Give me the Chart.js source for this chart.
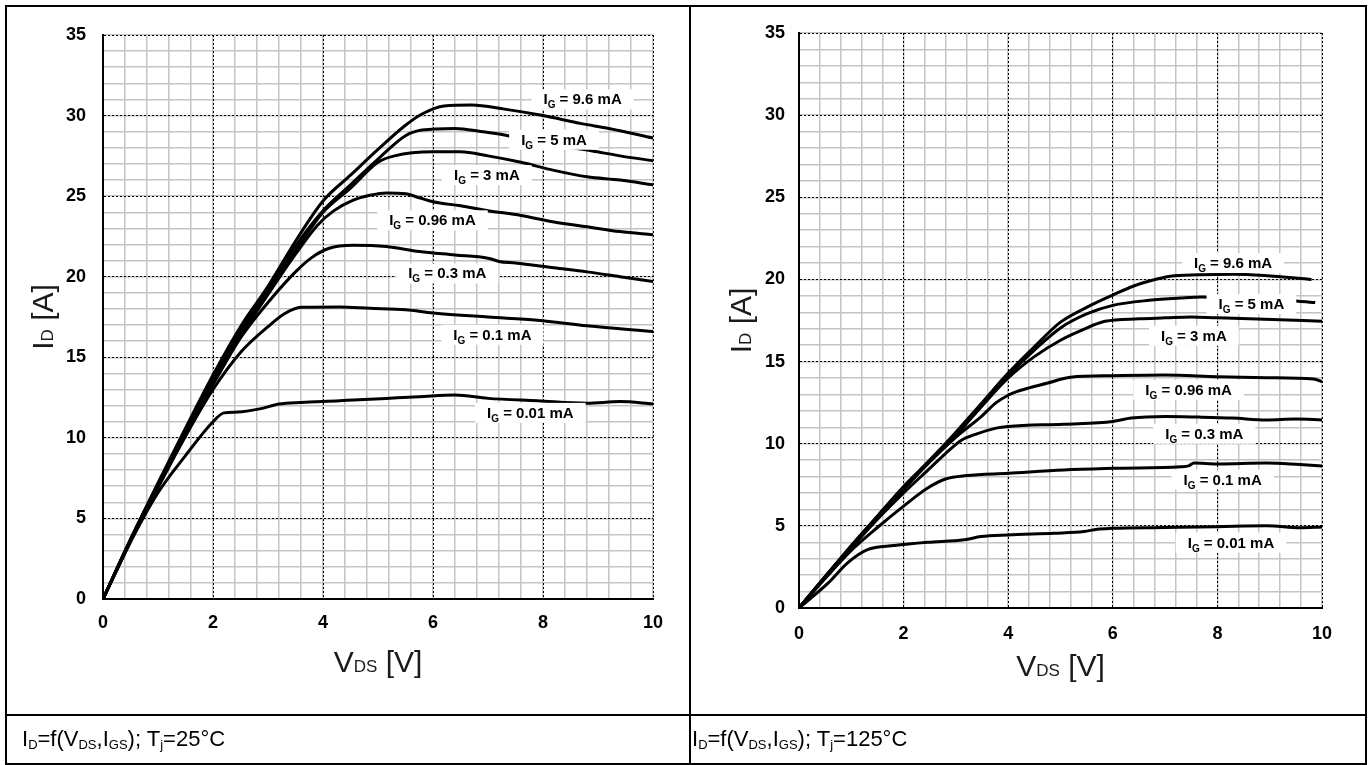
<!DOCTYPE html>
<html><head><meta charset="utf-8">
<script src="https://cdn.jsdelivr.net/npm/chart.js@4.4.0/dist/chart.umd.min.js"></script>
<style>
html,body{margin:0;padding:0;background:#fff;}
#page{position:relative;width:1370px;height:765px;overflow:hidden;background:#fff;}
.cv{position:absolute;top:0;}
.frame{position:absolute;left:5px;top:5px;width:1362px;height:760px;border:2px solid #000;box-sizing:border-box;}
.ln{position:absolute;background:#000;}
.cap{position:absolute;top:728px;font-family:"Liberation Sans",Arial,sans-serif;font-size:22px;color:#000;white-space:nowrap;line-height:1;}
.cap sub{font-size:13px;vertical-align:baseline;position:relative;top:3px;}
</style></head>
<body><div id="page">
<canvas id="c25" class="cv" style="left:0px" width="689" height="714"></canvas>
<canvas id="c125" class="cv" style="left:691px" width="675" height="714"></canvas>
<div class="frame"></div>
<div class="ln" style="left:689px;top:5px;width:2px;height:760px"></div>
<div class="ln" style="left:5px;top:714px;width:1362px;height:2px"></div>
<div class="cap" style="left:22px">I<sub>D</sub>=f(V<sub>DS</sub>,I<sub>GS</sub>); T<sub>j</sub>=25°C</div>
<div class="cap" style="left:692px">I<sub>D</sub>=f(V<sub>DS</sub>,I<sub>GS</sub>); T<sub>j</sub>=125°C</div>
</div>
<script>
// ---------- data (V_DS [V], I_D [A]) ----------
const X_TICKS = [0, 2, 4, 6, 8, 10];
const Y_TICKS = [0, 5, 10, 15, 20, 25, 30, 35];
const IG_LABELS = ['9.6 mA', '5 mA', '3 mA', '0.96 mA', '0.3 mA', '0.1 mA', '0.01 mA'];

// Tj = 25 °C
const T25_IG_9_6 = [[0,0],[0.5,3.7],[1,7.2],[1.5,10.6],[2,13.9],[2.5,16.9],[3,19.4],[3.5,22.2],[4,24.7],[4.5,26.3],[5,27.9],[5.5,29.4],[5.8,30.1],[6.2,30.6],[6.7,30.65],[7.3,30.4],[8,30.0],[8.7,29.5],[9.2,29.2],[10,28.6]];
const T25_IG_5   = [[0,0],[0.5,3.7],[1,7.1],[1.5,10.5],[2,13.7],[2.5,16.7],[3,19.2],[3.5,21.9],[4,24.1],[4.5,25.7],[5,27.3],[5.5,28.75],[5.8,29.1],[6.4,29.2],[6.9,29.0],[7.3,28.8],[8,28.3],[8.9,27.8],[9.4,27.5],[10,27.2]];
const T25_IG_3   = [[0,0],[0.5,3.65],[1,7.1],[1.5,10.4],[2,13.6],[2.5,16.5],[3,19.0],[3.5,21.6],[4,24.0],[4.5,25.5],[5,27.1],[5.3,27.5],[6,27.75],[6.5,27.75],[7,27.5],[7.6,27.1],[8.2,26.6],[8.8,26.2],[9.4,26.0],[10,25.7]];
const T25_IG_0_96 = [[0,0],[0.5,3.65],[1,7.1],[1.5,10.4],[2,13.5],[2.5,16.3],[3,18.9],[3.5,21.4],[3.9,23.2],[4.2,24.1],[4.55,24.75],[4.85,25.05],[5.15,25.2],[5.5,25.15],[5.75,24.9],[6,24.65],[6.5,24.4],[7,24.1],[7.6,23.8],[8.2,23.4],[8.8,23.1],[9.4,22.8],[10,22.6]];
const T25_IG_0_3 = [[0,0],[0.5,3.6],[1,7.0],[1.5,10.3],[2,13.3],[2.5,16.2],[3,18.4],[3.5,20.3],[3.8,21.2],[4.1,21.75],[4.55,21.95],[5.15,21.87],[5.75,21.56],[6.4,21.35],[7,21.15],[7.2,20.95],[7.5,20.85],[8.2,20.55],[8.8,20.3],[9.4,20.0],[10,19.7]];
const T25_IG_0_1 = [[0,0],[0.5,3.6],[1,6.9],[1.5,10.1],[2,13.0],[2.5,15.3],[3,16.9],[3.3,17.7],[3.6,18.1],[4.3,18.12],[4.85,18.04],[5.5,17.95],[6,17.75],[7,17.5],[7.9,17.3],[8.8,16.95],[10,16.6]];
const T25_IG_0_01 = [[0,0],[0.57,4.0],[1,6.6],[1.5,8.9],[2,11.0],[2.2,11.55],[2.45,11.6],[2.85,11.8],[3.2,12.1],[3.6,12.2],[4.3,12.3],[4.55,12.35],[5.15,12.45],[5.75,12.55],[6.4,12.66],[7,12.45],[7.9,12.3],[8.8,12.15],[9.4,12.25],[10,12.1]];

// Tj = 125 °C
const T125_IG_9_6 = [[0,0],[0.5,1.9],[1,3.8],[1.5,5.6],[2,7.4],[2.5,9.0],[3,10.7],[3.5,12.5],[4,14.3],[4.5,15.9],[5,17.4],[5.5,18.3],[6,19.05],[6.4,19.6],[6.75,19.95],[7.1,20.2],[7.65,20.28],[8.3,20.32],[8.9,20.24],[9.8,20.0]];
const T125_IG_5   = [[0,0],[0.5,1.9],[1,3.75],[1.5,5.55],[2,7.35],[2.5,8.95],[3,10.6],[3.5,12.4],[4,14.15],[4.5,15.7],[5,17.05],[5.5,17.9],[6,18.42],[6.7,18.73],[7.3,18.87],[7.7,18.93],[8.6,18.8],[9.55,18.67],[9.87,18.59]];
const T125_IG_3   = [[0,0],[0.5,1.9],[1,3.75],[1.5,5.5],[2,7.3],[2.5,8.9],[3,10.5],[3.5,12.3],[4,14.0],[4.5,15.3],[5,16.3],[5.4,16.9],[5.85,17.45],[6.5,17.6],[7,17.66],[7.5,17.72],[8,17.66],[8.9,17.58],[10,17.45]];
const T125_IG_0_96 = [[0,0],[0.5,1.9],[1,3.7],[1.5,5.5],[2,7.2],[2.5,8.9],[3,10.4],[3.5,11.7],[3.77,12.5],[4,12.95],[4.16,13.17],[4.4,13.4],[4.74,13.68],[5.19,14.05],[6,14.14],[7,14.18],[8,14.08],[8.94,14.02],[9.84,13.94],[10,13.78]];
const T125_IG_0_3 = [[0,0],[0.5,1.85],[1,3.65],[1.5,5.4],[2,7.0],[2.5,8.5],[2.8,9.4],[3.1,10.2],[3.4,10.6],[3.77,10.95],[4,11.05],[5.06,11.19],[6,11.35],[6.35,11.56],[7,11.66],[7.65,11.62],[8.29,11.56],[8.94,11.45],[9.5,11.5],[10,11.45]];
const T125_IG_0_1 = [[0,0],[0.5,1.8],[1,3.5],[1.5,4.9],[2,6.2],[2.46,7.3],[2.8,7.85],[3.2,8.06],[4,8.2],[5.06,8.4],[6,8.5],[7.3,8.6],[7.45,8.65],[7.55,8.83],[8,8.77],[8.94,8.83],[9.58,8.73],[10,8.65]];
const T125_IG_0_01 = [[0,0],[0.55,1.5],[0.93,2.75],[1.31,3.55],[1.82,3.8],[2.46,4.0],[3.16,4.15],[3.48,4.35],[3.99,4.45],[4.88,4.55],[5.45,4.65],[5.7,4.8],[6,4.85],[7,4.9],[8,4.95],[8.94,5.0],[9.58,4.88],[10,4.93]];

// curve label anchors (V_DS, I_D) — placement only
const LABEL_AT_25  = [[8.72,31.0],[8.2,28.5],[6.98,26.3],[5.99,23.5],[6.26,20.2],[7.08,16.4],[7.77,11.55]];
const LABEL_AT_125 = [[8.3,21.0],[8.65,18.5],[7.55,16.57],[7.45,13.27],[7.75,10.6],[8.1,7.82],[8.26,3.98]];

// ---------- plugins ----------
const FONT = '"Liberation Sans", Arial, sans-serif';
function drawParts(ctx, parts, cx, baseY) {
  let w = 0;
  parts.forEach(p => { ctx.font = p.f; w += ctx.measureText(p.t).width; });
  let x = cx - w / 2;
  parts.forEach(p => { ctx.font = p.f; ctx.fillText(p.t, x, baseY + (p.dy || 0)); x += ctx.measureText(p.t).width; });
  return w;
}
const curveLabels = {
  id: 'curveLabels',
  afterDatasetsDraw(chart, args, opts) {
    const ctx = chart.ctx, xs = chart.scales.x, ys = chart.scales.y;
    ctx.save();
    ctx.textAlign = 'left'; ctx.textBaseline = 'alphabetic';
    opts.items.forEach(it => {
      const px = xs.getPixelForValue(it.x), py = ys.getPixelForValue(it.y);
      const parts = [
        {t: 'I', f: 'bold 15px ' + FONT},
        {t: 'G', f: 'bold 10px ' + FONT, dy: 4},
        {t: ' = ' + it.text, f: 'bold 15px ' + FONT}
      ];
      let w = 0;
      parts.forEach(p => { ctx.font = p.f; w += ctx.measureText(p.t).width; });
      ctx.fillStyle = '#fff';
      ctx.fillRect(px - w / 2 - 12, py - 10, w + 24, 20);
      ctx.fillStyle = '#000';
      drawParts(ctx, parts, px, py + 5);
    });
    ctx.restore();
  }
};
const axisTitles = {
  id: 'axisTitles',
  afterDraw(chart, args, opts) {
    const ctx = chart.ctx, a = chart.chartArea;
    ctx.save();
    ctx.fillStyle = '#1a1a1a'; ctx.textAlign = 'left'; ctx.textBaseline = 'alphabetic';
    drawParts(ctx, [
      {t: 'V', f: '30px ' + FONT},
      {t: 'DS', f: '17px ' + FONT},
      {t: ' [V]', f: '30px ' + FONT}
    ], (a.left + a.right) / 2, a.bottom + opts.xOff);
    ctx.translate(a.left - opts.yOff, (a.top + a.bottom) / 2);
    ctx.rotate(-Math.PI / 2);
    drawParts(ctx, [
      {t: 'I', f: '30px ' + FONT},
      {t: 'D', f: '17px ' + FONT},
      {t: ' [A]', f: '30px ' + FONT}
    ], 0, 0);
    ctx.restore();
  }
};

function makeChart(id, series, labelAt, g) {
  return new Chart(document.getElementById(id), {
    type: 'scatter',
    data: {
      datasets: series.map(s => ({
        data: s.map(p => ({x: p[0], y: p[1]})),
        showLine: true, borderColor: '#000', borderWidth: 3,
        pointRadius: 0, pointHoverRadius: 0,
        cubicInterpolationMode: 'monotone', fill: false
      }))
    },
    options: {
      responsive: false, animation: false, devicePixelRatio: 1, events: [],
      layout: {padding: {left: 0, top: g.top, right: g.right, bottom: 0}},
      plugins: {
        legend: {display: false}, tooltip: {enabled: false},
        curveLabels: {items: labelAt.map((p, i) => ({x: p[0], y: p[1], text: IG_LABELS[i]}))},
        axisTitles: {xOff: g.xTitle, yOff: g.yTitle}
      },
      scales: {
        xm: {
          type: 'linear', position: 'bottom', min: 0, max: 10,
          ticks: {stepSize: 0.4, display: false},
          grid: {color: '#c4c4c4', lineWidth: 1.5, drawTicks: false, z: -2},
          border: {display: false},
          afterFit: s => { s.height = 0; }
        },
        ym: {
          type: 'linear', position: 'left', min: 0, max: 35,
          ticks: {stepSize: 1, display: false},
          grid: {color: '#c4c4c4', lineWidth: 1.5, drawTicks: false, z: -2},
          border: {display: false},
          afterFit: s => { s.width = 0; }
        },
        x: {
          type: 'linear', position: 'bottom', min: 0, max: 10,
          afterBuildTicks: s => { s.ticks = X_TICKS.map(v => ({value: v})); },
          afterFit: s => { s.height = g.xh; },
          ticks: {color: '#000', padding: g.xpad, font: {family: FONT, size: 18, weight: 'bold'}},
          grid: {color: '#000', lineWidth: 1, drawTicks: false},
          border: {display: true, color: '#000', width: 2, dash: [2, 2]}
        },
        y: {
          type: 'linear', position: 'left', min: 0, max: 35,
          afterBuildTicks: s => { s.ticks = Y_TICKS.map(v => ({value: v})); },
          afterFit: s => { s.width = g.yw; },
          ticks: {color: '#000', padding: g.ypad, font: {family: FONT, size: 18, weight: 'bold'}},
          grid: {color: '#000', lineWidth: 1, drawTicks: false},
          border: {display: true, color: '#000', width: 2, dash: [2, 2]}
        }
      }
    },
    plugins: [curveLabels, axisTitles]
  });
}

makeChart('c25',
  [T25_IG_9_6, T25_IG_5, T25_IG_3, T25_IG_0_96, T25_IG_0_3, T25_IG_0_1, T25_IG_0_01],
  LABEL_AT_25,
  {top: 35, right: 36, xh: 115, yw: 103, xpad: 13, ypad: 17, xTitle: 73, yTitle: 50});
makeChart('c125',
  [T125_IG_9_6, T125_IG_5, T125_IG_3, T125_IG_0_96, T125_IG_0_3, T125_IG_0_1, T125_IG_0_01],
  LABEL_AT_125,
  {top: 33, right: 44, xh: 106, yw: 108, xpad: 15, ypad: 14, xTitle: 68, yTitle: 48});
</script>
</body></html>
